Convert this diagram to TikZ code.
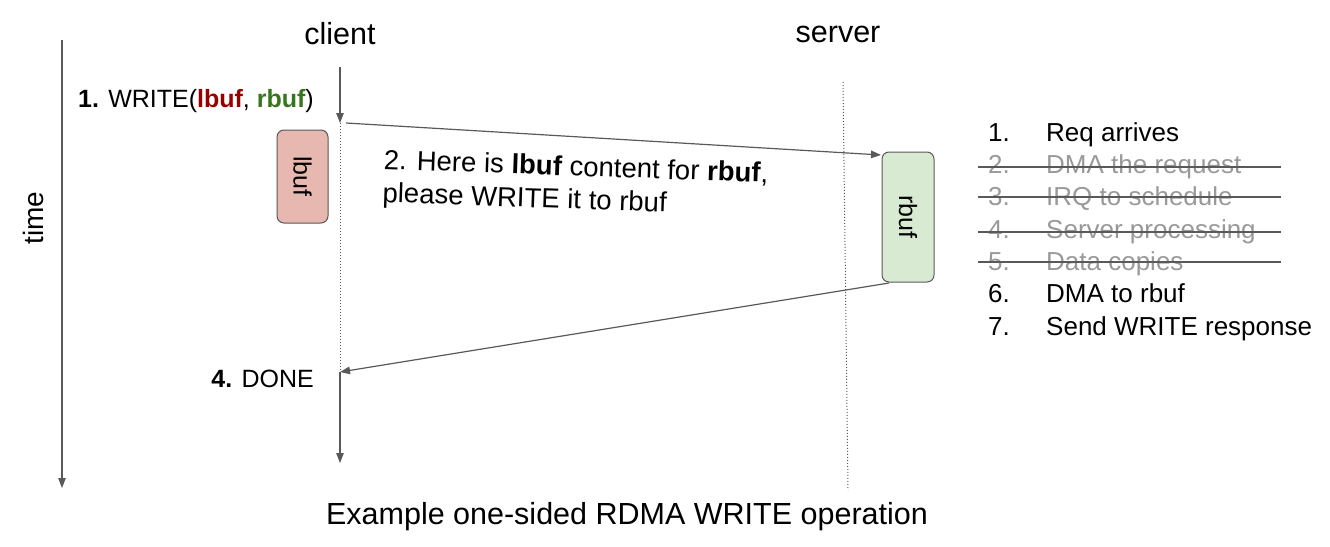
\documentclass[tikz,border=0pt]{standalone}
\usepackage{fontspec}
\setmainfont{Liberation Sans}
\usetikzlibrary{arrows.meta}
\definecolor{ln}{HTML}{595959}
\definecolor{lred}{HTML}{990000}
\definecolor{lgreen}{HTML}{38761D}
\definecolor{lbuffill}{HTML}{E6B8AF}
\definecolor{rbuffill}{HTML}{D9EAD3}
\definecolor{graytext}{HTML}{999999}
\begin{document}
\begin{tikzpicture}[x=1pt,y=-1pt,
  conn/.style={draw=ln, line width=1.2pt, -{Triangle[length=10pt,width=7.5pt]}},
  dots/.style={draw=ln, line width=1pt, dotted},
  big/.style={font=\fontsize{30.5}{36}\selectfont, inner sep=0pt},
  txt/.style={font=\fontsize{25}{30}\selectfont, inner sep=0pt},
  msg/.style={font=\fontsize{27.5}{30}\selectfont, inner sep=0pt},
  lst/.style={font=\fontsize{26}{30}\selectfont, inner sep=0pt},
  buf/.style={draw=ln, line width=1pt, rounded corners=7pt, rotate=-90, inner sep=0pt, font=\fontsize{25}{30}\selectfont},
  strike/.style={draw=ln, line width=1.2pt},
]
\useasboundingbox (0,0) rectangle (1330,546);

% time axis
\coordinate (t0) at (62,40);
\coordinate (t1) at (62,488);
\draw[conn] (t0) -- (t1);
\node[txt, font=\fontsize{28}{32}\selectfont, rotate=90] (time) at (33,218) {time};

% headers
\node[big] (client) at (340,34) {client};
\node[big] (server) at (838,34) {server};

% client timeline
\coordinate (c0) at (340,67);
\coordinate (c1) at (340,123);
\coordinate (c2) at (340,372);
\coordinate (c3) at (340,463);
\draw[conn] (c0) -- (c1);
\draw[dots] (c1) -- (c2);
\draw[conn] (c2) -- (c3);

% server timeline
\coordinate (s0) at (843,82);
\coordinate (s1) at (848,490);
\draw[dots] (s0) -- (s1);

% buffers
\node[buf, fill=lbuffill, minimum width=93pt, minimum height=51pt] (lbuf) at (302.5,176.5) {lbuf};
\node[buf, fill=rbuffill, minimum width=130pt, minimum height=52pt] (rbuf) at (908,217) {rbuf};

% messages
\coordinate (m1) at (346,123);
\coordinate (r1) at (881,155);
\draw[conn] (m1) -- (r1);
\coordinate (r2) at (889,283);
\draw[conn] (r2) -- (c2);

% labels
\node[txt, anchor=east] (w1) at (314,101) {\textbf{1.} WRITE(\textbf{\color{lred}lbuf}, \textbf{\color{lgreen}rbuf})};
\node[msg, anchor=north west, align=left, rotate=-2] (w2) at (384,149) {2. Here is \textbf{lbuf} content for \textbf{rbuf},\\[3pt]please WRITE it to rbuf};
\node[txt, anchor=east] (w4) at (314,379) {\textbf{4.} DONE};

% server steps
\foreach \n/\t/\y/\c in {1/Req arrives/132/black, 2/DMA the request/164/graytext, 3/IRQ to schedule/196/graytext, 4/Server processing/229/graytext, 5/Data copies/261/graytext, 6/DMA to rbuf/293/black, 7/Send WRITE response/326/black}{
  \node[lst, anchor=base west, text=\c] (n\n) at (988,\y+9) {\n.};
  \node[lst, anchor=base west, text=\c] (s\n) at (1046,\y+9) {\t};
}
\foreach \y in {167,197,232,262}{
  \draw[strike] (978,\y) -- (1281,\y);
}

% caption
\node[big] (cap) at (627,517) {Example one-sided RDMA WRITE operation};
\end{tikzpicture}
\end{document}
